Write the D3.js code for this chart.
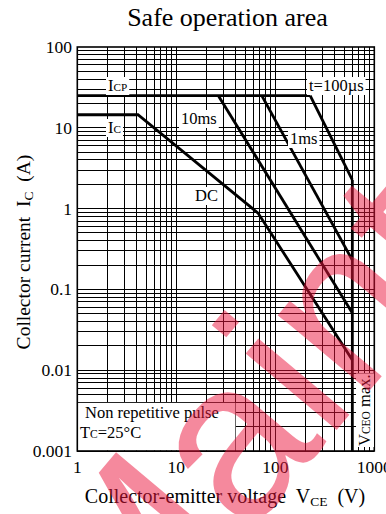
<!DOCTYPE html>
<html>
<head>
<meta charset="utf-8">
<script src="https://cdn.jsdelivr.net/npm/d3@7"></script>
<style>
  html, body { margin: 0; padding: 0; background: #fff; }
  svg { display: block; }
  text { font-family: "Liberation Serif", "Times New Roman", serif; fill: #000; white-space: pre; }
</style>
</head>
<body>
<svg id="chart" width="386" height="514"></svg>
<script>
// Axis ticks and labels
const vTicks = [1, 10, 100, 1000];
const vTickLabels = ["1", "10", "100", "1000"];
const iTicks = [0.001, 0.01, 0.1, 1, 10, 100];
const iTickLabels = ["0.001", "0.01", "0.1", "1", "10", "100"];

// Safe operating area boundaries (V_CE in V, I_C in A)
const icpV = [1, 225];          const icpI = [25, 25];
const dcV = [1, 4.1, 67, 600];  const dcI = [14.5, 14.5, 0.88, 0.0134];
const ms10V = [26.6, 600];      const ms10I = [25, 0.051];
const ms1V = [73, 600];         const ms1I = [25, 0.23];
const us100V = [225, 600];      const us100I = [25, 2.26];
const vceoV = [600, 600];       const vceoI = [2.26, 0.001];

const svg = d3.select("#chart");
const x = d3.scaleLog().domain([1, 1000]).range([77.3, 374.3]);
const y = d3.scaleLog().domain([0.001, 100]).range([451, 47]);

// Grid: every 1..9 step of each decade
const xGrid = [];
for (let d = 1; d < 1000; d *= 10) for (let k = 1; k <= 9; k++) xGrid.push(k * d);
const yGrid = [];
for (let d = 0.001; d < 99; d *= 10) for (let k = 1; k <= 9; k++) yGrid.push(+(k * d).toPrecision(3));

const grid = svg.append("g").attr("stroke", "#000").attr("stroke-width", 1).attr("shape-rendering", "crispEdges");
grid.selectAll("line.v").data(xGrid).join("line")
  .attr("x1", d => x(d)).attr("x2", d => x(d)).attr("y1", y(100)).attr("y2", y(0.001));
grid.selectAll("line.h").data(yGrid).join("line")
  .attr("x1", x(1)).attr("x2", x(1000)).attr("y1", d => y(d)).attr("y2", d => y(d));

// Note area in the lower-left corner, bounded by the 40 V and 4 mA lines
svg.append("rect")
  .attr("x", x(1) + 0.5).attr("y", y(0.004) + 0.5)
  .attr("width", x(40) - x(1) - 1).attr("height", y(0.001) - y(0.004) - 1)
  .attr("fill", "#fff");

// Frame
svg.append("rect")
  .attr("x", x(1)).attr("y", y(100))
  .attr("width", x(1000) - x(1)).attr("height", y(0.001) - y(100))
  .attr("fill", "none").attr("stroke", "#000").attr("stroke-width", 1.6);

// Boundary curves
const line = d3.line().x(d => x(d[0])).y(d => y(d[1]));
const curves = [
  [icpV, icpI], [dcV, dcI], [ms10V, ms10I], [ms1V, ms1I], [us100V, us100I], [vceoV, vceoI]
];
svg.append("g").selectAll("path").data(curves).join("path")
  .attr("d", c => line(c[0].map((v, i) => [v, c[1][i]])))
  .attr("fill", "none").attr("stroke", "#000").attr("stroke-width", 2.8)
  .attr("stroke-linejoin", "miter");

// Curve labels on white boxes
function boxedLabel(px, py, parts, size) {
  const g = svg.append("g");
  const t = g.append("text").attr("x", px).attr("y", py).attr("font-size", size);
  parts.forEach(p => {
    const s = t.append("tspan").text(p.t);
    if (p.sub) s.attr("font-size", size * 0.68);
  });
  const b = t.node().getBBox();
  g.insert("rect", "text")
    .attr("x", b.x - 2).attr("y", b.y + 1).attr("width", b.width + 4).attr("height", b.height - 1)
    .attr("fill", "#fff");
  return g;
}
boxedLabel(108, 91, [{t: "I"}, {t: "CP", sub: true}], 16.5);
boxedLabel(108, 133, [{t: "I"}, {t: "C", sub: true}], 16.5);
boxedLabel(181, 124, [{t: "10ms"}], 16.5);
boxedLabel(290, 144, [{t: "1ms"}], 16.5);
boxedLabel(309, 91, [{t: "t=100µs"}], 16.5);
boxedLabel(195, 201, [{t: "DC"}], 16.5);

// V_CEO max. label, vertical
{
  const g = svg.append("g").attr("transform", "translate(370,446) rotate(-90)");
  const t = g.append("text").attr("x", 0).attr("y", 0).attr("font-size", 16.5);
  t.append("tspan").text("V");
  t.append("tspan").text("CEO").attr("font-size", 11.5);
  t.append("tspan").text(" max.");
  const b = t.node().getBBox();
  g.insert("rect", "text").attr("x", b.x - 1).attr("y", b.y + 1).attr("width", b.width + 2).attr("height", b.height - 1).attr("fill", "#fff");
}

// Conditions note
svg.append("text").attr("x", 85).attr("y", 418).attr("font-size", 16.5).text("Non repetitive pulse");
{
  const t = svg.append("text").attr("x", 80).attr("y", 438).attr("font-size", 16.5);
  t.append("tspan").text("T");
  t.append("tspan").text("C").attr("font-size", 11.5);
  t.append("tspan").text("=25°C");
}

// Tick labels
svg.append("g").selectAll("text").data(iTicks).join("text")
  .attr("x", 72).attr("y", d => y(d) + 6).attr("text-anchor", "end").attr("font-size", 17.5)
  .text((d, i) => iTickLabels[i]);
svg.append("g").selectAll("text").data(vTicks).join("text")
  .attr("x", d => x(d)).attr("y", 473).attr("text-anchor", "middle").attr("font-size", 17.5)
  .text((d, i) => vTickLabels[i]);

// Title and axis titles
svg.append("text").attr("x", 227.5).attr("y", 26).attr("text-anchor", "middle").attr("font-size", 26)
  .text("Safe operation area");
{
  const t = svg.append("text").attr("transform", "translate(30,252) rotate(-90)")
    .attr("text-anchor", "middle").attr("font-size", 19.5);
  t.append("tspan").text("Collector current  I");
  t.append("tspan").text("C").attr("font-size", 13.5).attr("dy", 3);
  t.append("tspan").text("  (A)").attr("dy", -3);
}
{
  const t = svg.append("text").attr("x", 225).attr("y", 503)
    .attr("text-anchor", "middle").attr("font-size", 20);
  t.append("tspan").text("Collector-emitter voltage  V");
  t.append("tspan").text("CE").attr("font-size", 13.5).attr("dy", 3);
  t.append("tspan").text("  (V)").attr("dy", -3);
}

// Diagonal stamp across the sheet
svg.append("text")
  .attr("transform", "translate(126,681) rotate(-50)")
  .style("font-family", "'Liberation Sans', Arial, sans-serif")
  .attr("font-size", 225)
  .style("fill", "rgb(235,20,60)")
  .attr("fill-opacity", 0.5)
  .text("Maintenance");
</script>
</body>
</html>
